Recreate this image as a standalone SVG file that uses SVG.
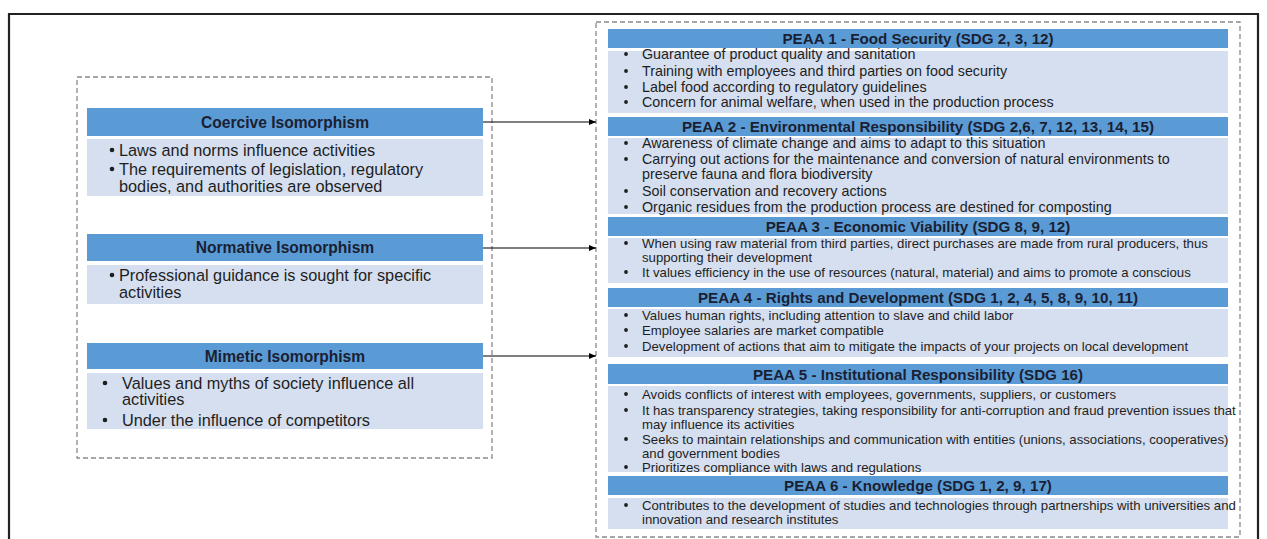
<svg xmlns="http://www.w3.org/2000/svg" width="1267" height="539" viewBox="0 0 1267 539">
<defs>
<style>
.hdr{fill:#5b9bd5}
.body{fill:#d5dff0}
.dash{fill:none;stroke:#8a8a8a;stroke-width:1.3;stroke-dasharray:5,3}
.ht{font-family:"Liberation Sans",Arial,sans-serif;font-weight:bold;fill:#1a1f33;text-anchor:middle}
.lh{font-size:15.6px}
.rh{font-size:15.2px}
.lt{font-family:"Liberation Sans",Arial,sans-serif;font-size:16.3px;fill:#1e1e1e}
.rt{font-family:"Liberation Sans",Arial,sans-serif;font-size:13.2px;fill:#1e1e1e}
.rtw{font-family:"Liberation Sans",Arial,sans-serif;font-size:14.3px;fill:#1e1e1e}
.bul{fill:#1e1e1e}
.conn{stroke:#000;stroke-width:1.2;fill:none}
</style>
<marker id="ah" markerWidth="8" markerHeight="8" refX="7" refY="4" orient="auto" markerUnits="userSpaceOnUse">
<path d="M0,1 L7,4 L0,7 Z" fill="#000"/>
</marker>
</defs>
<rect width="1267" height="539" fill="#fff"/>
<polyline points="9,539 9,14 1258,14 1258,539" fill="none" stroke="#222" stroke-width="2.2"/>

<rect id="left-frame" class="dash" x="77" y="77" width="415" height="381"/>
<rect id="right-frame" class="dash" x="596" y="22" width="644" height="515"/>

<g id="coercive">
<rect class="hdr" x="87" y="108" width="396" height="28"/>
<text class="ht lh" x="285" y="127.5">Coercive Isomorphism</text>
<rect class="body" x="87" y="139" width="396" height="57"/>
<circle class="bul" cx="112" cy="150" r="2.3"/>
<text class="lt" x="119" y="155.5">Laws and norms influence activities</text>
<circle class="bul" cx="112" cy="169" r="2.3"/>
<text class="lt" x="119" y="174.5">The requirements of legislation, regulatory</text>
<text class="lt" x="119" y="191.5">bodies, and authorities are observed</text>
</g>

<g id="normative">
<rect class="hdr" x="87" y="234" width="396" height="27"/>
<text class="ht lh" x="285" y="253">Normative Isomorphism</text>
<rect class="body" x="87" y="265" width="396" height="39"/>
<circle class="bul" cx="112" cy="275" r="2.3"/>
<text class="lt" x="119" y="280.5">Professional guidance is sought for specific</text>
<text class="lt" x="119" y="298">activities</text>
</g>

<g id="mimetic">
<rect class="hdr" x="87" y="343" width="396" height="26"/>
<text class="ht lh" x="285" y="361.5">Mimetic Isomorphism</text>
<rect class="body" x="87" y="373" width="396" height="56"/>
<circle class="bul" cx="105" cy="383" r="2.3"/>
<text class="lt" x="122" y="388.5">Values and myths of society influence all</text>
<text class="lt" x="122" y="404.5">activities</text>
<circle class="bul" cx="105" cy="420" r="2.3"/>
<text class="lt" x="122" y="425.5">Under the influence of competitors</text>
</g>

<g id="peaa1">
<rect class="hdr" x="608" y="29" width="620" height="19"/>
<text class="ht rh" x="918" y="44">PEAA 1 - Food Security (SDG 2, 3, 12)</text>
<rect class="body" x="608" y="51" width="620" height="62"/>
<circle class="bul" cx="626" cy="54" r="1.9"/>
<text class="rtw" x="642" y="58.5">Guarantee of product quality and sanitation</text>
<circle class="bul" cx="626" cy="71" r="1.9"/>
<text class="rtw" x="642" y="75.5">Training with employees and third parties on food security</text>
<circle class="bul" cx="626" cy="87" r="1.9"/>
<text class="rtw" x="642" y="91.5">Label food according to regulatory guidelines</text>
<circle class="bul" cx="626" cy="102" r="1.9"/>
<text class="rtw" x="642" y="106.5">Concern for animal welfare, when used in the production process</text>
</g>

<g id="peaa2">
<rect class="hdr" x="608" y="117" width="620" height="19"/>
<text class="ht rh" x="918" y="132">PEAA 2 - Environmental Responsibility (SDG 2,6, 7, 12, 13, 14, 15)</text>
<rect class="body" x="608" y="138" width="620" height="76"/>
<circle class="bul" cx="626" cy="143" r="1.9"/>
<text class="rtw" x="642" y="147.5">Awareness of climate change and aims to adapt to this situation</text>
<circle class="bul" cx="626" cy="159" r="1.9"/>
<text class="rtw" x="642" y="163.5">Carrying out actions for the maintenance and conversion of natural environments to</text>
<text class="rtw" x="642" y="178.5">preserve fauna and flora biodiversity</text>
<circle class="bul" cx="626" cy="191" r="1.9"/>
<text class="rtw" x="642" y="195.5">Soil conservation and recovery actions</text>
<circle class="bul" cx="626" cy="207" r="1.9"/>
<text class="rtw" x="642" y="211.5">Organic residues from the production process are destined for composting</text>
</g>

<g id="peaa3">
<rect class="hdr" x="608" y="217" width="620" height="19"/>
<text class="ht rh" x="918" y="232">PEAA 3 - Economic Viability (SDG 8, 9, 12)</text>
<rect class="body" x="608" y="238" width="620" height="45"/>
<circle class="bul" cx="626" cy="243" r="1.9"/>
<text class="rt" x="642" y="247.5">When using raw material from third parties, direct purchases are made from rural producers, thus</text>
<text class="rt" x="642" y="261.5">supporting their development</text>
<circle class="bul" cx="626" cy="272" r="1.9"/>
<text class="rt" x="642" y="276.5">It values efficiency in the use of resources (natural, material) and aims to promote a conscious</text>
</g>

<g id="peaa4">
<rect class="hdr" x="608" y="288" width="620" height="19"/>
<text class="ht rh" x="918" y="303">PEAA 4 - Rights and Development (SDG 1, 2, 4, 5, 8, 9, 10, 11)</text>
<rect class="body" x="608" y="309" width="620" height="48"/>
<circle class="bul" cx="626" cy="315" r="1.9"/>
<text class="rt" x="642" y="319.5">Values human rights, including attention to slave and child labor</text>
<circle class="bul" cx="626" cy="330" r="1.9"/>
<text class="rt" x="642" y="334.5">Employee salaries are market compatible</text>
<circle class="bul" cx="626" cy="346" r="1.9"/>
<text class="rt" x="642" y="350.5">Development of actions that aim to mitigate the impacts of your projects on local development</text>
</g>

<g id="peaa5">
<rect class="hdr" x="608" y="364" width="620" height="20"/>
<text class="ht rh" x="918" y="379.5">PEAA 5 - Institutional Responsibility (SDG 16)</text>
<rect class="body" x="608" y="386" width="620" height="86"/>
<circle class="bul" cx="626" cy="394" r="1.9"/>
<text class="rt" x="642" y="398.5">Avoids conflicts of interest with employees, governments, suppliers, or customers</text>
<circle class="bul" cx="626" cy="410" r="1.9"/>
<text class="rt" x="642" y="414.5">It has transparency strategies, taking responsibility for anti-corruption and fraud prevention issues that</text>
<text class="rt" x="642" y="428.5">may influence its activities</text>
<circle class="bul" cx="626" cy="439" r="1.9"/>
<text class="rt" x="642" y="443.5">Seeks to maintain relationships and communication with entities (unions, associations, cooperatives)</text>
<text class="rt" x="642" y="457.5">and government bodies</text>
<circle class="bul" cx="626" cy="467" r="1.9"/>
<text class="rt" x="642" y="471.5">Prioritizes compliance with laws and regulations</text>
</g>

<g id="peaa6">
<rect class="hdr" x="608" y="476" width="620" height="19"/>
<text class="ht rh" x="918" y="491">PEAA 6 - Knowledge (SDG 1, 2, 9, 17)</text>
<rect class="body" x="608" y="498" width="620" height="31"/>
<circle class="bul" cx="626" cy="505" r="1.9"/>
<text class="rt" x="642" y="509.5">Contributes to the development of studies and technologies through partnerships with universities and</text>
<text class="rt" x="642" y="523.5">innovation and research institutes</text>
</g>

<g id="connectors">
<line class="conn" x1="483" y1="122" x2="596" y2="122" marker-end="url(#ah)"/>
<line class="conn" x1="483" y1="248" x2="596" y2="248" marker-end="url(#ah)"/>
<line class="conn" x1="483" y1="356" x2="596" y2="356" marker-end="url(#ah)"/>
</g>
</svg>
